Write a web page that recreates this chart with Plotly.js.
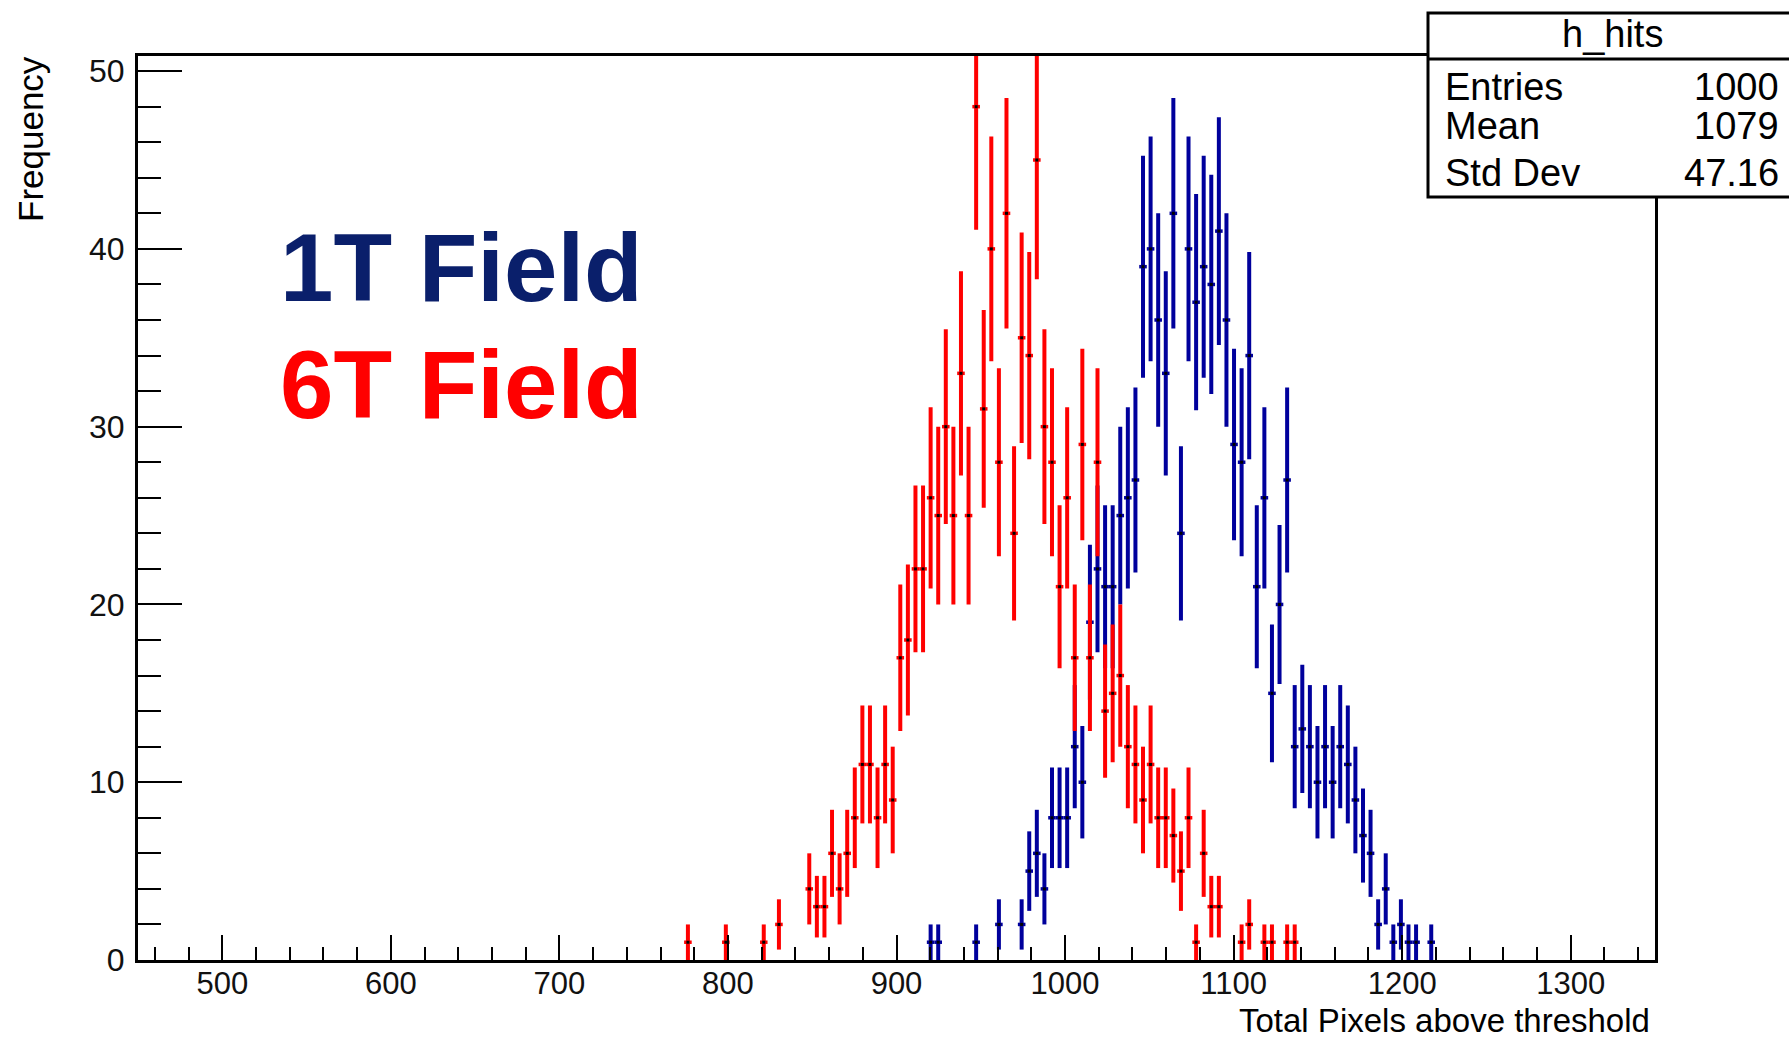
<!DOCTYPE html>
<html>
<head>
<meta charset="utf-8">
<script src="https://cdn.plot.ly/plotly-3.0.1.min.js"></script>
<style>
html,body{margin:0;padding:0;background:#fff;}
#chart{width:1789px;height:1038px;}
</style>
</head>
<body>
<div id="chart"></div>
<script>
// 6T field (red) histogram: bin centres and counts
const redX = [776.25, 798.75, 821.25, 830.25, 848.25, 852.75, 857.25, 861.75, 866.25, 870.75,
  875.25, 879.75, 884.25, 888.75, 893.25, 897.75, 902.25, 906.75, 911.25, 915.75,
  920.25, 924.75, 929.25, 933.75, 938.25, 942.75, 947.25, 951.75, 956.25, 960.75,
  965.25, 969.75, 974.25, 978.75, 983.25, 987.75, 992.25, 996.75, 1001.25, 1005.75,
  1010.25, 1014.75, 1019.25, 1023.75, 1028.25, 1032.75, 1037.25, 1041.75, 1046.25, 1050.75,
  1055.25, 1059.75, 1064.25, 1068.75, 1073.25, 1077.75, 1082.25, 1086.75, 1091.25, 1104.75,
  1109.25, 1118.25, 1122.75, 1131.75, 1136.25];
const redY = [1, 1, 1, 2, 4, 3, 3, 6, 4, 6,
  8, 11, 11, 8, 11, 9, 17, 18, 22, 22,
  26, 25, 30, 25, 33, 25, 48, 31, 40, 28,
  42, 24, 35, 34, 45, 30, 28, 21, 26, 17,
  29, 17, 28, 14, 15, 16, 12, 11, 9, 11,
  8, 8, 7, 5, 8, 1, 6, 3, 3, 1,
  2, 1, 1, 1, 1];

// 1T field (blue) histogram: bin centres and counts
const blueX = [920.25, 924.75, 947.25, 960.75, 974.25, 978.75, 983.25, 987.75, 992.25, 996.75,
  1001.25, 1005.75, 1010.25, 1014.75, 1019.25, 1023.75, 1028.25, 1032.75, 1037.25, 1041.75,
  1046.25, 1050.75, 1055.25, 1059.75, 1064.25, 1068.75, 1073.25, 1077.75, 1082.25, 1086.75,
  1091.25, 1095.75, 1100.25, 1104.75, 1109.25, 1113.75, 1118.25, 1122.75, 1127.25, 1131.75,
  1136.25, 1140.75, 1145.25, 1149.75, 1154.25, 1158.75, 1163.25, 1167.75, 1172.25, 1176.75,
  1181.25, 1185.75, 1190.25, 1194.75, 1199.25, 1203.75, 1208.25, 1217.25];
const blueY = [1, 1, 1, 2, 2, 5, 6, 4, 8, 8,
  8, 12, 10, 19, 22, 21, 21, 25, 26, 27,
  39, 40, 36, 33, 42, 24, 40, 37, 39, 38,
  41, 36, 29, 28, 34, 21, 26, 15, 20, 27,
  12, 13, 12, 10, 12, 10, 12, 11, 9, 7,
  6, 2, 4, 1, 2, 1, 1, 1];

const halfBin = 2.25;
const statsLabels = ["Entries", "Mean", "Std Dev"];
const statsValues = ["1000", "1079", "47.16"];
const histName = "h_hits";

const FONT = "Liberation Sans, Arial, Helvetica, sans-serif";
const BLUE = "#00009c";
const RED = "#ff0000";

function histTrace(xs, ys, color) {
  return {
    type: "scatter", mode: "markers", x: xs, y: ys,
    marker: {symbol: "square", size: 3, color: "#000000"},
    error_y: {type: "data", array: ys.map(v => Math.sqrt(v)), visible: true,
              color: color, thickness: 4, width: 0},
    error_x: {type: "constant", value: halfBin, visible: true,
              color: color, thickness: 3.5, width: 0},
    hoverinfo: "x+y", showlegend: false
  };
}

const traces = [histTrace(blueX, blueY, BLUE), histTrace(redX, redY, RED)];

// geometry helpers (plot frame in pixels)
const L = 138, R = 1655, T = 56, B = 960;
const px = X => (X - L) / (R - L);
const py = Y => (B - Y) / (B - T);

const annotations = [
  {text: "<b>1T Field</b>", xref: "paper", yref: "paper", x: px(278), y: py(267),
   xanchor: "left", yanchor: "middle", showarrow: false,
   font: {family: FONT, size: 96, color: "#0a1f6b"}},
  {text: "<b>6T Field</b>", xref: "paper", yref: "paper", x: px(278), y: py(384),
   xanchor: "left", yanchor: "middle", showarrow: false,
   font: {family: FONT, size: 96, color: RED}},
  {text: "Frequency", xref: "paper", yref: "paper", x: px(30), y: py(139),
   xanchor: "center", yanchor: "middle", textangle: -90, showarrow: false,
   font: {family: FONT, size: 35, color: "#000"}},
  {text: "Total Pixels above threshold", xref: "paper", yref: "paper", x: px(1652), y: py(1020),
   xanchor: "right", yanchor: "middle", showarrow: false,
   font: {family: FONT, size: 33, color: "#000"}},
  {text: histName, xref: "paper", yref: "paper", x: px(1612), y: py(34),
   xanchor: "center", yanchor: "middle", showarrow: false,
   font: {family: FONT, size: 38, color: "#000"}}
];
const rowY = [87, 126, 173];
statsLabels.forEach((lab, i) => {
  annotations.push({text: lab, xref: "paper", yref: "paper", x: px(1443), y: py(rowY[i]),
    xanchor: "left", yanchor: "middle", showarrow: false,
    font: {family: FONT, size: 38, color: "#000"}});
  annotations.push({text: statsValues[i], xref: "paper", yref: "paper", x: px(1781), y: py(rowY[i]),
    xanchor: "right", yanchor: "middle", showarrow: false,
    font: {family: FONT, size: 38, color: "#000"}});
});

const shapes = [
  {type: "rect", xref: "paper", yref: "paper", x0: px(1428), x1: px(1800), y0: py(197), y1: py(13),
   line: {color: "#000", width: 3}, fillcolor: "#fff", layer: "above"},
  {type: "line", xref: "paper", yref: "paper", x0: px(1428), x1: px(1800), y0: py(59), y1: py(59),
   line: {color: "#000", width: 3}, layer: "above"}
];

const layout = {
  width: 1789, height: 1038,
  margin: {l: L, r: 1789 - R, t: T, b: 1038 - B, pad: 0},
  paper_bgcolor: "#fff", plot_bgcolor: "#fff",
  showlegend: false,
  font: {family: FONT, color: "#000"},
  xaxis: {
    range: [450, 1350], showgrid: false, zeroline: false,
    showline: true, linecolor: "#000", linewidth: 3, mirror: true,
    ticks: "inside", ticklen: 25, tickwidth: 2, tickcolor: "#000",
    tick0: 500, dtick: 100, tickfont: {family: FONT, size: 31, color: "#111"},
    ticklabelstandoff: -6,
    minor: {ticks: "inside", dtick: 20, tick0: 0, ticklen: 13, tickwidth: 2, tickcolor: "#000", showgrid: false}
  },
  yaxis: {
    range: [0, 50.85], showgrid: false, zeroline: false,
    showline: true, linecolor: "#000", linewidth: 3, mirror: true,
    ticks: "inside", ticklen: 44, tickwidth: 2, tickcolor: "#000",
    tick0: 0, dtick: 10, tickfont: {family: FONT, size: 32, color: "#111"},
    ticklabelstandoff: 4,
    minor: {ticks: "inside", dtick: 2, tick0: 0, ticklen: 23, tickwidth: 2, tickcolor: "#000", showgrid: false}
  },
  annotations: annotations,
  shapes: shapes
};

Plotly.newPlot("chart", traces, layout, {displayModeBar: false, staticPlot: true});
</script>
</body>
</html>
